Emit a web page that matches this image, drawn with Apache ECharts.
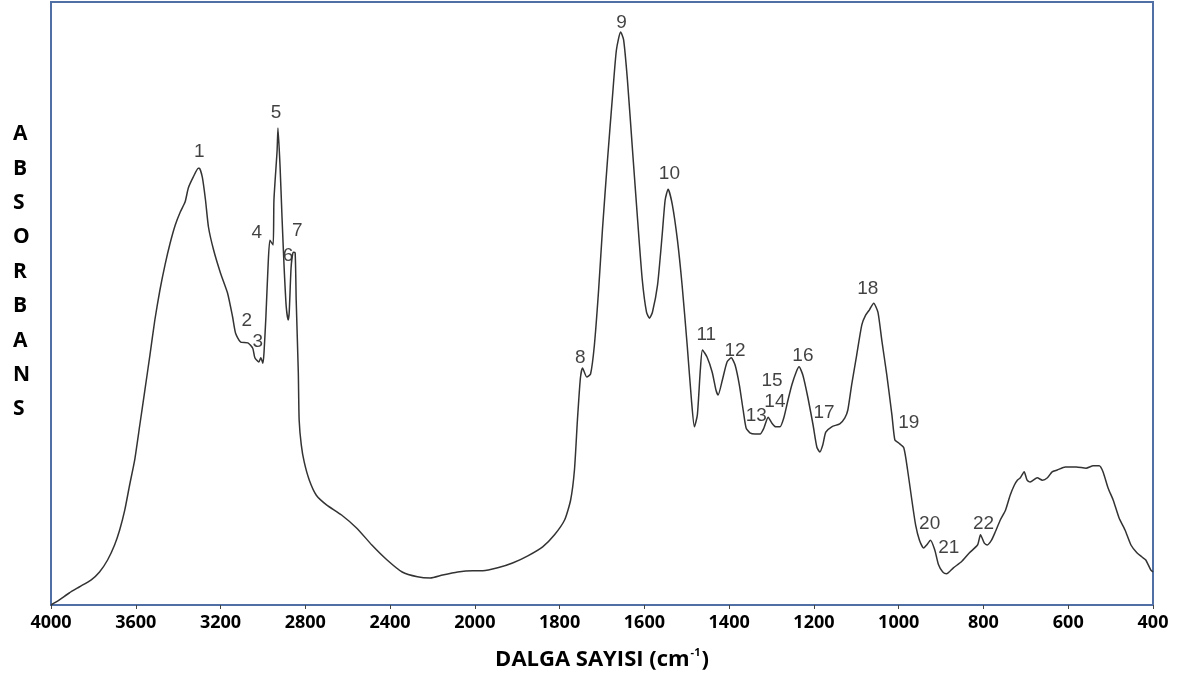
<!DOCTYPE html>
<html>
<head>
<meta charset="utf-8">
<script src="https://cdn.jsdelivr.net/npm/echarts@6/dist/echarts.min.js"></script>
<style>
  html, body { margin: 0; padding: 0; background: #fff; }
  #chart { width: 1186px; height: 681px; }
</style>
</head>
<body>
<div id="chart"></div>
<script>
// spectrum (wavenumber cm-1, absorbance in arbitrary units)
var spectrumWave = [
    4000, 3962, 3914, 3867, 3810, 3771, 3733, 3700, 3676, 3652, 3629, 3605, 3581, 3557, 3533, 3510,
    3486, 3462, 3438, 3414, 3390, 3367, 3352, 3329, 3305, 3300, 3286, 3271, 3257, 3233, 3200, 3167,
    3143, 3129, 3105, 3071, 3048, 3038, 3019, 3010, 3000, 2995, 2986, 2976, 2967, 2952, 2948, 2933,
    2929, 2919, 2910, 2900, 2890, 2881, 2876, 2867, 2857, 2848, 2843, 2833, 2829, 2819, 2805, 2781,
    2748, 2700, 2629, 2557, 2486, 2414, 2343, 2271, 2210, 2152, 2081, 2010,
    1981, 1946, 1911, 1875, 1840, 1812, 1788, 1774, 1765, 1758, 1751, 1746, 1736, 1727, 1718, 1708,
    1699, 1687, 1675, 1666, 1656, 1649, 1640, 1628, 1616, 1605, 1595, 1588, 1581, 1569, 1558, 1551,
    1544, 1534, 1522, 1511, 1499, 1489, 1482, 1475, 1468, 1463, 1452, 1440, 1431, 1426, 1416, 1405,
    1395, 1386, 1376, 1367, 1360, 1351, 1339, 1327, 1318, 1308, 1299, 1290, 1280, 1271, 1261, 1252,
    1242, 1235, 1226, 1214, 1202, 1193, 1186, 1179, 1172, 1158, 1139, 1127, 1120, 1111, 1099, 1087,
    1078, 1069, 1059, 1049, 1040, 1028, 1016, 1009, 1000, 988, 979, 969, 960, 951, 941, 934,
    925, 915, 906, 896, 887, 871, 852, 833, 814, 807, 798, 791, 781, 772, 760, 748,
    737, 727, 720, 713, 704, 697, 690, 673, 661, 649, 638, 626, 607, 581, 558, 541,
    527, 518, 506, 494, 480, 466, 452, 438, 426, 417, 405, 400
];
var spectrumAbs = [
    0, 0.8, 2.0, 3.0, 4.2, 5.5, 7.5, 10, 12.5, 15.8, 20, 24.2, 30, 35.8, 41.7, 47.5,
    52.5, 56.7, 60.3, 63.3, 65.5, 67.2, 69.5, 71.3, 72.8, 72.8, 71.3, 67.5, 63, 59.2, 55.3, 52,
    48, 45.3, 43.8, 43.7, 42.8, 41.2, 40.5, 41.2, 40.3, 42, 48, 56.3, 60.8, 60, 67.5, 75.8,
    79.5, 73, 64.7, 56.3, 49.7, 47.5, 48.7, 56.3, 58.8, 58.7, 50.8, 38.7, 30.8, 26.7, 23.8, 20.8,
    18.3, 16.7, 15, 12.8, 10, 7.5, 5.5, 4.7, 4.5, 5, 5.5, 5.7,
    5.7, 6.2, 7, 8.2, 9.7, 11.7, 14.2, 17.5, 22.5, 30.8, 37.8, 39.5, 38, 38.5, 43.3, 52.5,
    62.5, 74.2, 85, 92.5, 95.5, 94.2, 87.5, 75.8, 64.2, 54.2, 48.8, 47.8, 48.8, 53.3, 61.7, 67.5,
    69.3, 66.7, 60.8, 53.3, 43.3, 34.2, 29.7, 31.7, 39.2, 42.5, 41.3, 38.8, 35.8, 35, 37.5, 40.5,
    41.2, 40, 36.7, 32.5, 29.5, 28.7, 28.5, 28.5, 29.5, 31.3, 30.3, 29.7, 29.7, 31.2, 34.2, 36.7,
    38.8, 39.7, 38.3, 34.5, 30, 26.3, 25.5, 26.7, 28.8, 29.7, 30.2, 31.2, 32.5, 36.7, 41.7, 46.7,
    48.3, 49.2, 50.3, 48.8, 44.2, 38.3, 31.7, 27.5, 27, 26.2, 22.5, 17.5, 13.3, 10.8, 9.5, 10,
    10.8, 9.2, 6.7, 5.5, 5.2, 6.2, 7.2, 8.7, 10, 11.7, 10.3, 10, 10.8, 12.2, 14.2, 15.8,
    18.3, 20, 20.8, 21.2, 22.2, 20.8, 20.5, 21.2, 20.8, 21.2, 22.2, 22.5, 23, 23, 22.8, 23.2,
    23.2, 22.2, 19.5, 17.5, 14.5, 12.5, 10, 8.7, 8, 7.5, 5.8, 5.5
];

// peak numbers and where their text sits
var peakNames = ['1', '2', '3', '4', '5', '6', '7', '8', '9', '10', '11',
    '12', '13', '14', '15', '16', '17', '18', '19', '20', '21', '22'];
var peakWave = [3300, 3076, 3024, 3029, 2938, 2881, 2838, 1751, 1654, 1541, 1454,
    1386, 1336, 1292, 1299, 1226, 1176, 1073, 976, 927, 882, 800];
var peakAbs = [75.5, 47.3, 43.8, 62, 82, 58.2, 62.3, 41.2, 97, 71.8, 45,
    42.3, 31.5, 33.8, 37.3, 41.5, 32, 52.7, 30.3, 13.5, 9.5, 13.5];

// tick labels of the wavenumber axis (scale halves at 2000)
var tickLabels = [4000, 3600, 3200, 2800, 2400, 2000, 1800, 1600, 1400, 1200, 1000, 800, 600, 400];

// the axis is linear in two pieces: 400 cm-1 per step above 2000, 200 below
function toAxis(w) {
    if (w >= 2000) return (4000 - w) / 400;
    return 5 + (2000 - w) / 200;
}

var lineData = [];
for (var i = 0; i < spectrumWave.length; i++) {
    lineData.push([toAxis(spectrumWave[i]), spectrumAbs[i]]);
}
var peakData = [];
for (var j = 0; j < peakNames.length; j++) {
    peakData.push({ value: [toAxis(peakWave[j]), peakAbs[j]], name: peakNames[j] });
}

var chart = echarts.init(document.getElementById('chart'));
var option = {
    animation: false,
    grid: {
        left: 51,
        right: 33,
        top: 2,
        bottom: 76,
        show: true,
        borderColor: '#4f6fa5',
        borderWidth: 2
    },
    xAxis: {
        type: 'value',
        min: 0,
        max: 13,
        interval: 1,
        splitLine: { show: false },
        axisLine: { lineStyle: { color: '#4f6fa5', width: 2 } },
        axisTick: { length: 4, lineStyle: { color: '#444' } },
        axisLabel: {
            margin: 9,
            color: '#000',
            fontFamily: 'Open Sans',
            fontWeight: 'bold',
            fontSize: 18,
            formatter: function (v) { return tickLabels[Math.round(v)]; }
        },
        name: '{b|DALGA SAYISI (cm}{s|-1}{b|)}',
        nameLocation: 'middle',
        nameGap: 42,
        nameTextStyle: {
            rich: {
                b: { fontFamily: 'Open Sans', fontWeight: 'bold', fontSize: 22, color: '#000', lineHeight: 26 },
                s: { fontFamily: 'Open Sans', fontWeight: 'bold', fontSize: 11, color: '#000', verticalAlign: 'top', lineHeight: 26, padding: [0, 1, 12, 1] }
            }
        }
    },
    yAxis: {
        type: 'value',
        min: 0,
        max: 100.5,
        show: false
    },
    graphic: [{
        type: 'text',
        left: 13,
        top: 117,
        style: {
            text: 'A\nB\nS\nO\nR\nB\nA\nN\nS',
            font: 'bold 21px "Open Sans"',
            fill: '#000',
            lineHeight: 34.4,
            align: 'left'
        }
    }],
    series: [{
        type: 'line',
        data: lineData,
        showSymbol: false,
        smooth: 0.2,
        lineStyle: { color: '#333', width: 1.5 }
    }, {
        type: 'scatter',
        data: peakData,
        symbolSize: 0,
        label: {
            show: true,
            position: 'inside',
            formatter: '{b}',
            color: '#111',
            fontFamily: 'Liberation Sans',
            fontSize: 19
        }
    }]
};
chart.setOption(option);
</script>
</body>
</html>
